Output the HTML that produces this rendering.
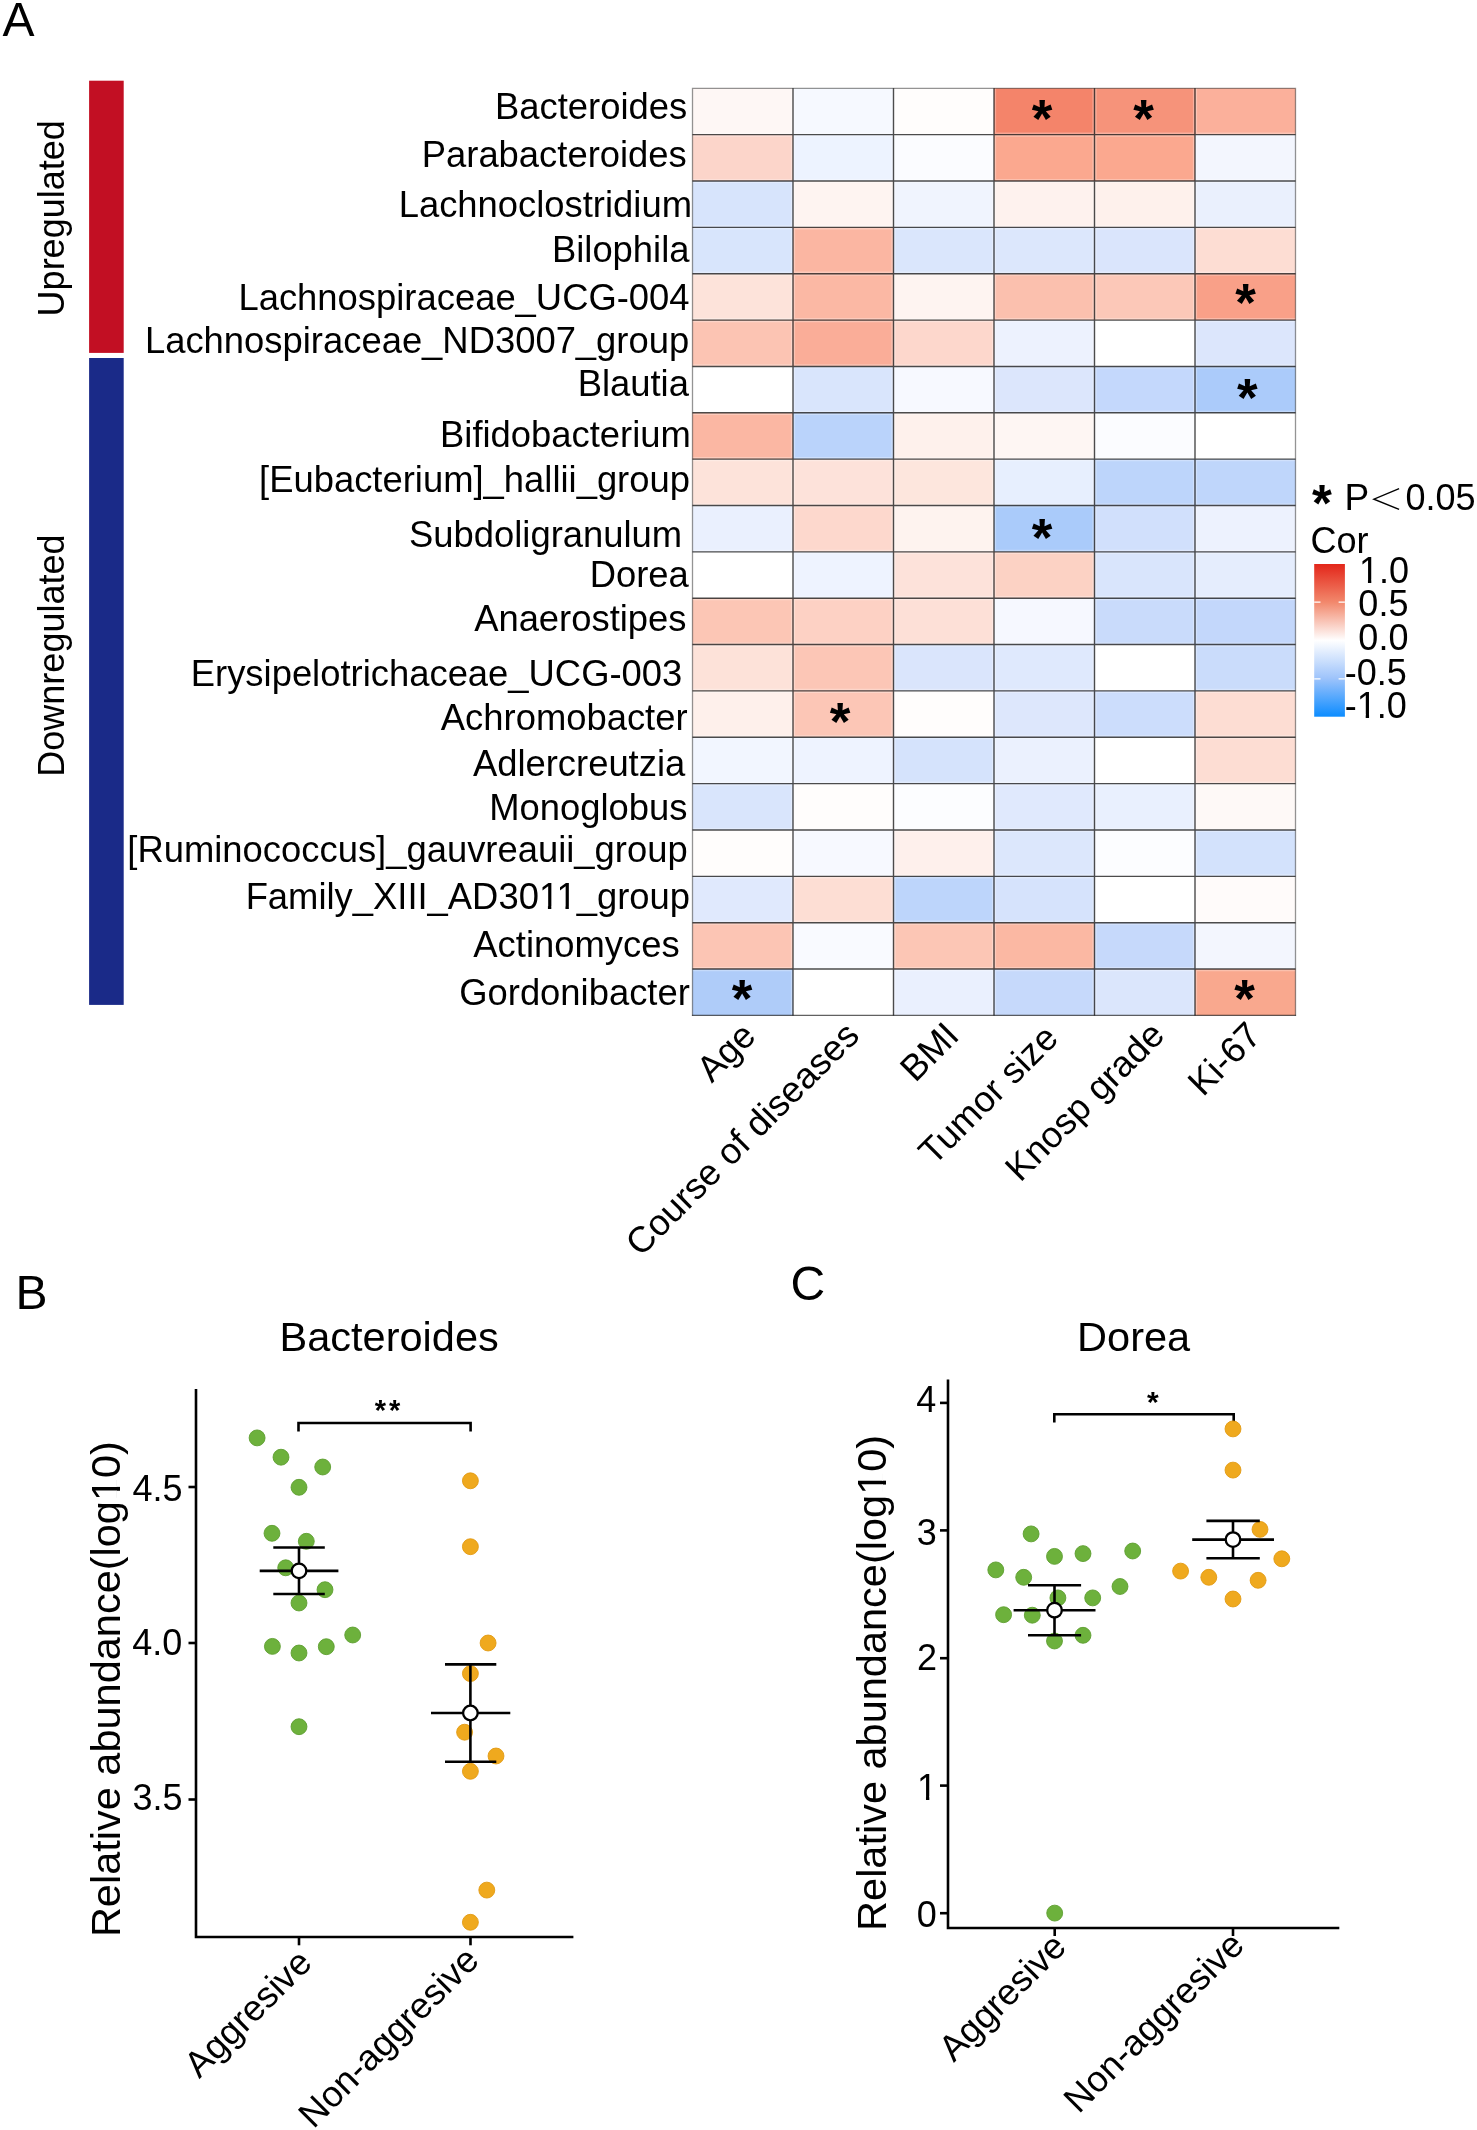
<!DOCTYPE html>
<html><head><meta charset="utf-8"><style>
html,body{margin:0;padding:0;background:#fff;}
svg{display:block;will-change:transform;}
text{font-family:"Liberation Sans",sans-serif;fill:#000;}
</style></head><body>
<svg width="1477" height="2130" viewBox="0 0 1477 2130">
<rect width="1477" height="2130" fill="#fff"/>
<text x="2.58" y="35.80" font-size="48.00">A</text>
<rect x="89.1" y="80.7" width="34.6" height="272.2" fill="#C20F23"/>
<rect x="89.1" y="358" width="34.6" height="646.9" fill="#1A2A88"/>
<text transform="translate(63.60,316.39) rotate(-90)" font-size="36.00">Upregulated</text>
<text transform="translate(64.30,776.67) rotate(-90)" font-size="36.00">Downregulated</text>
<text x="687.21" y="119.40" font-size="36.40" text-anchor="end">Bacteroides</text>
<text x="686.77" y="167.10" font-size="36.40" text-anchor="end">Parabacteroides</text>
<text x="691.96" y="216.50" font-size="36.40" text-anchor="end">Lachnoclostridium</text>
<text x="689.52" y="262.30" font-size="36.40" text-anchor="end">Bilophila</text>
<text x="689.57" y="310.00" font-size="36.40" text-anchor="end">Lachnospiraceae_UCG-004</text>
<text x="689.19" y="352.50" font-size="36.40" text-anchor="end">Lachnospiraceae_ND3007_group</text>
<text x="688.92" y="395.80" font-size="36.40" text-anchor="end">Blautia</text>
<text x="690.86" y="446.90" font-size="36.40" text-anchor="end">Bifidobacterium</text>
<text x="689.98" y="492.10" font-size="36.40" text-anchor="end">[Eubacterium]_hallii_group</text>
<text x="682.17" y="546.60" font-size="36.40" text-anchor="end">Subdoligranulum</text>
<text x="688.75" y="586.80" font-size="36.40" text-anchor="end">Dorea</text>
<text x="686.56" y="630.80" font-size="36.40" text-anchor="end">Anaerostipes</text>
<text x="682.31" y="686.00" font-size="36.40" text-anchor="end">Erysipelotrichaceae_UCG-003</text>
<text x="687.58" y="730.30" font-size="36.40" text-anchor="end">Achromobacter</text>
<text x="685.25" y="776.00" font-size="36.40" text-anchor="end">Adlercreutzia</text>
<text x="687.51" y="820.00" font-size="36.40" text-anchor="end">Monoglobus</text>
<text x="687.69" y="862.40" font-size="36.40" text-anchor="end">[Ruminococcus]_gauvreauii_group</text>
<text x="689.99" y="909.20" font-size="36.40" text-anchor="end">Family_XIII_AD3011_group</text>
<text x="679.61" y="956.90" font-size="36.40" text-anchor="end">Actinomyces</text>
<text x="689.83" y="1004.60" font-size="36.40" text-anchor="end">Gordonibacter</text>
<rect x="692.50" y="88.30" width="100.50" height="46.36" fill="#FEF7F5"/>
<rect x="793.00" y="88.30" width="100.50" height="46.36" fill="#F6F9FF"/>
<rect x="893.50" y="88.30" width="100.50" height="46.36" fill="#FFFDFC"/>
<rect x="994.00" y="88.30" width="100.50" height="46.36" fill="#F4846A"/>
<rect x="1094.50" y="88.30" width="100.50" height="46.36" fill="#F6937A"/>
<rect x="1195.00" y="88.30" width="100.50" height="46.36" fill="#FBB09B"/>
<rect x="692.50" y="134.66" width="100.50" height="46.36" fill="#FCD5CA"/>
<rect x="793.00" y="134.66" width="100.50" height="46.36" fill="#EDF3FF"/>
<rect x="893.50" y="134.66" width="100.50" height="46.36" fill="#FBFCFF"/>
<rect x="994.00" y="134.66" width="100.50" height="46.36" fill="#FBA88F"/>
<rect x="1094.50" y="134.66" width="100.50" height="46.36" fill="#FBA88F"/>
<rect x="1195.00" y="134.66" width="100.50" height="46.36" fill="#F3F6FE"/>
<rect x="692.50" y="181.01" width="100.50" height="46.36" fill="#D7E4FC"/>
<rect x="793.00" y="181.01" width="100.50" height="46.36" fill="#FEF4F1"/>
<rect x="893.50" y="181.01" width="100.50" height="46.36" fill="#F0F4FE"/>
<rect x="994.00" y="181.01" width="100.50" height="46.36" fill="#FEF2EE"/>
<rect x="1094.50" y="181.01" width="100.50" height="46.36" fill="#FEF1EC"/>
<rect x="1195.00" y="181.01" width="100.50" height="46.36" fill="#EAF0FD"/>
<rect x="692.50" y="227.37" width="100.50" height="46.36" fill="#D8E5FC"/>
<rect x="793.00" y="227.37" width="100.50" height="46.36" fill="#FBB6A2"/>
<rect x="893.50" y="227.37" width="100.50" height="46.36" fill="#DAE6FC"/>
<rect x="994.00" y="227.37" width="100.50" height="46.36" fill="#DCE7FC"/>
<rect x="1094.50" y="227.37" width="100.50" height="46.36" fill="#DAE5FC"/>
<rect x="1195.00" y="227.37" width="100.50" height="46.36" fill="#FDDDD3"/>
<rect x="692.50" y="273.72" width="100.50" height="46.36" fill="#FDE3DA"/>
<rect x="793.00" y="273.72" width="100.50" height="46.36" fill="#FBB8A4"/>
<rect x="893.50" y="273.72" width="100.50" height="46.36" fill="#FEF4F1"/>
<rect x="994.00" y="273.72" width="100.50" height="46.36" fill="#FBC0AE"/>
<rect x="1094.50" y="273.72" width="100.50" height="46.36" fill="#FCC8B8"/>
<rect x="1195.00" y="273.72" width="100.50" height="46.36" fill="#F9A088"/>
<rect x="692.50" y="320.08" width="100.50" height="46.36" fill="#FCC4B3"/>
<rect x="793.00" y="320.08" width="100.50" height="46.36" fill="#FAAD98"/>
<rect x="893.50" y="320.08" width="100.50" height="46.36" fill="#FDD7CC"/>
<rect x="994.00" y="320.08" width="100.50" height="46.36" fill="#EDF2FE"/>
<rect x="1094.50" y="320.08" width="100.50" height="46.36" fill="#FFFFFF"/>
<rect x="1195.00" y="320.08" width="100.50" height="46.36" fill="#DCE6FC"/>
<rect x="692.50" y="366.43" width="100.50" height="46.36" fill="#FFFFFF"/>
<rect x="793.00" y="366.43" width="100.50" height="46.36" fill="#D9E5FC"/>
<rect x="893.50" y="366.43" width="100.50" height="46.36" fill="#F7F9FF"/>
<rect x="994.00" y="366.43" width="100.50" height="46.36" fill="#DCE6FC"/>
<rect x="1094.50" y="366.43" width="100.50" height="46.36" fill="#C4D8FC"/>
<rect x="1195.00" y="366.43" width="100.50" height="46.36" fill="#ABCBFA"/>
<rect x="692.50" y="412.79" width="100.50" height="46.36" fill="#FBB7A3"/>
<rect x="793.00" y="412.79" width="100.50" height="46.36" fill="#BAD3FB"/>
<rect x="893.50" y="412.79" width="100.50" height="46.36" fill="#FEF1EC"/>
<rect x="994.00" y="412.79" width="100.50" height="46.36" fill="#FEF6F3"/>
<rect x="1094.50" y="412.79" width="100.50" height="46.36" fill="#FBFCFF"/>
<rect x="1195.00" y="412.79" width="100.50" height="46.36" fill="#FFFFFF"/>
<rect x="692.50" y="459.14" width="100.50" height="46.36" fill="#FDE3DA"/>
<rect x="793.00" y="459.14" width="100.50" height="46.36" fill="#FDE2DA"/>
<rect x="893.50" y="459.14" width="100.50" height="46.36" fill="#FDE6DD"/>
<rect x="994.00" y="459.14" width="100.50" height="46.36" fill="#E7EFFE"/>
<rect x="1094.50" y="459.14" width="100.50" height="46.36" fill="#BDD5FB"/>
<rect x="1195.00" y="459.14" width="100.50" height="46.36" fill="#BFD6FB"/>
<rect x="692.50" y="505.50" width="100.50" height="46.36" fill="#EAF0FE"/>
<rect x="793.00" y="505.50" width="100.50" height="46.36" fill="#FDD8CD"/>
<rect x="893.50" y="505.50" width="100.50" height="46.36" fill="#FEF3EF"/>
<rect x="994.00" y="505.50" width="100.50" height="46.36" fill="#AACBFA"/>
<rect x="1094.50" y="505.50" width="100.50" height="46.36" fill="#D1E0FC"/>
<rect x="1195.00" y="505.50" width="100.50" height="46.36" fill="#EDF2FE"/>
<rect x="692.50" y="551.85" width="100.50" height="46.36" fill="#FFFFFF"/>
<rect x="793.00" y="551.85" width="100.50" height="46.36" fill="#EEF3FF"/>
<rect x="893.50" y="551.85" width="100.50" height="46.36" fill="#FDE2DA"/>
<rect x="994.00" y="551.85" width="100.50" height="46.36" fill="#FCD2C4"/>
<rect x="1094.50" y="551.85" width="100.50" height="46.36" fill="#D9E5FC"/>
<rect x="1195.00" y="551.85" width="100.50" height="46.36" fill="#E5EDFD"/>
<rect x="692.50" y="598.21" width="100.50" height="46.36" fill="#FCC6B5"/>
<rect x="793.00" y="598.21" width="100.50" height="46.36" fill="#FDD1C4"/>
<rect x="893.50" y="598.21" width="100.50" height="46.36" fill="#FDE0D7"/>
<rect x="994.00" y="598.21" width="100.50" height="46.36" fill="#F6F8FF"/>
<rect x="1094.50" y="598.21" width="100.50" height="46.36" fill="#C9DBFB"/>
<rect x="1195.00" y="598.21" width="100.50" height="46.36" fill="#C3D7FB"/>
<rect x="692.50" y="644.56" width="100.50" height="46.36" fill="#FDE2D9"/>
<rect x="793.00" y="644.56" width="100.50" height="46.36" fill="#FCC6B6"/>
<rect x="893.50" y="644.56" width="100.50" height="46.36" fill="#DAE5FC"/>
<rect x="994.00" y="644.56" width="100.50" height="46.36" fill="#DFE9FD"/>
<rect x="1094.50" y="644.56" width="100.50" height="46.36" fill="#FFFFFF"/>
<rect x="1195.00" y="644.56" width="100.50" height="46.36" fill="#CADCFB"/>
<rect x="692.50" y="690.91" width="100.50" height="46.36" fill="#FEF0EB"/>
<rect x="793.00" y="690.91" width="100.50" height="46.36" fill="#FCC6B6"/>
<rect x="893.50" y="690.91" width="100.50" height="46.36" fill="#FFFDFC"/>
<rect x="994.00" y="690.91" width="100.50" height="46.36" fill="#DDE7FC"/>
<rect x="1094.50" y="690.91" width="100.50" height="46.36" fill="#CCDDFC"/>
<rect x="1195.00" y="690.91" width="100.50" height="46.36" fill="#FDDDD3"/>
<rect x="692.50" y="737.27" width="100.50" height="46.36" fill="#F2F6FF"/>
<rect x="793.00" y="737.27" width="100.50" height="46.36" fill="#EEF3FF"/>
<rect x="893.50" y="737.27" width="100.50" height="46.36" fill="#D5E3FC"/>
<rect x="994.00" y="737.27" width="100.50" height="46.36" fill="#EBF1FE"/>
<rect x="1094.50" y="737.27" width="100.50" height="46.36" fill="#FFFFFF"/>
<rect x="1195.00" y="737.27" width="100.50" height="46.36" fill="#FDDDD3"/>
<rect x="692.50" y="783.62" width="100.50" height="46.36" fill="#D9E5FC"/>
<rect x="793.00" y="783.62" width="100.50" height="46.36" fill="#FFFDFC"/>
<rect x="893.50" y="783.62" width="100.50" height="46.36" fill="#FCFDFF"/>
<rect x="994.00" y="783.62" width="100.50" height="46.36" fill="#E0E9FD"/>
<rect x="1094.50" y="783.62" width="100.50" height="46.36" fill="#E9F0FE"/>
<rect x="1195.00" y="783.62" width="100.50" height="46.36" fill="#FEF9F7"/>
<rect x="692.50" y="829.98" width="100.50" height="46.36" fill="#FFFDFC"/>
<rect x="793.00" y="829.98" width="100.50" height="46.36" fill="#F7F9FF"/>
<rect x="893.50" y="829.98" width="100.50" height="46.36" fill="#FEF0EC"/>
<rect x="994.00" y="829.98" width="100.50" height="46.36" fill="#DCE7FC"/>
<rect x="1094.50" y="829.98" width="100.50" height="46.36" fill="#FCFDFF"/>
<rect x="1195.00" y="829.98" width="100.50" height="46.36" fill="#D3E2FC"/>
<rect x="692.50" y="876.34" width="100.50" height="46.36" fill="#E0E9FD"/>
<rect x="793.00" y="876.34" width="100.50" height="46.36" fill="#FDDED4"/>
<rect x="893.50" y="876.34" width="100.50" height="46.36" fill="#BDD5FB"/>
<rect x="994.00" y="876.34" width="100.50" height="46.36" fill="#D6E3FC"/>
<rect x="1094.50" y="876.34" width="100.50" height="46.36" fill="#FFFFFF"/>
<rect x="1195.00" y="876.34" width="100.50" height="46.36" fill="#FFFBFA"/>
<rect x="692.50" y="922.69" width="100.50" height="46.36" fill="#FCC5B4"/>
<rect x="793.00" y="922.69" width="100.50" height="46.36" fill="#F9FAFF"/>
<rect x="893.50" y="922.69" width="100.50" height="46.36" fill="#FCC6B5"/>
<rect x="994.00" y="922.69" width="100.50" height="46.36" fill="#FBB8A3"/>
<rect x="1094.50" y="922.69" width="100.50" height="46.36" fill="#C6D9FB"/>
<rect x="1195.00" y="922.69" width="100.50" height="46.36" fill="#F3F6FE"/>
<rect x="692.50" y="969.05" width="100.50" height="46.36" fill="#AFCCF9"/>
<rect x="793.00" y="969.05" width="100.50" height="46.36" fill="#FFFFFF"/>
<rect x="893.50" y="969.05" width="100.50" height="46.36" fill="#EAF0FE"/>
<rect x="994.00" y="969.05" width="100.50" height="46.36" fill="#C6D9FB"/>
<rect x="1094.50" y="969.05" width="100.50" height="46.36" fill="#DBE6FC"/>
<rect x="1195.00" y="969.05" width="100.50" height="46.36" fill="#F9A88E"/>
<path d="M793.00 88.30V1015.40 M893.50 88.30V1015.40 M994.00 88.30V1015.40 M1094.50 88.30V1015.40 M1195.00 88.30V1015.40 M692.50 134.66H1295.50 M692.50 181.01H1295.50 M692.50 227.37H1295.50 M692.50 273.72H1295.50 M692.50 320.08H1295.50 M692.50 366.43H1295.50 M692.50 412.79H1295.50 M692.50 459.14H1295.50 M692.50 505.50H1295.50 M692.50 551.85H1295.50 M692.50 598.21H1295.50 M692.50 644.56H1295.50 M692.50 690.91H1295.50 M692.50 737.27H1295.50 M692.50 783.62H1295.50 M692.50 829.98H1295.50 M692.50 876.34H1295.50 M692.50 922.69H1295.50 M692.50 969.05H1295.50" stroke="#fff" stroke-opacity="0.28" stroke-width="4.2" fill="none"/>
<path d="M793.00 88.30V1015.40 M893.50 88.30V1015.40 M994.00 88.30V1015.40 M1094.50 88.30V1015.40 M1195.00 88.30V1015.40 M692.50 134.66H1295.50 M692.50 181.01H1295.50 M692.50 227.37H1295.50 M692.50 273.72H1295.50 M692.50 320.08H1295.50 M692.50 366.43H1295.50 M692.50 412.79H1295.50 M692.50 459.14H1295.50 M692.50 505.50H1295.50 M692.50 551.85H1295.50 M692.50 598.21H1295.50 M692.50 644.56H1295.50 M692.50 690.91H1295.50 M692.50 737.27H1295.50 M692.50 783.62H1295.50 M692.50 829.98H1295.50 M692.50 876.34H1295.50 M692.50 922.69H1295.50 M692.50 969.05H1295.50" stroke="#000" stroke-opacity="0.70" stroke-width="1.4" fill="none"/>
<path d="M692.50 1015.40V88.30H1295.50V1015.40" stroke="#000" stroke-opacity="0.42" stroke-width="1.3" fill="none"/>
<path d="M691.90 1015.40H1296.10" stroke="#000" stroke-opacity="0.62" stroke-width="1.3" fill="none"/>
<text x="1031.66" y="137.07" font-size="53.00" font-weight="bold">*</text>
<text x="1133.16" y="137.07" font-size="53.00" font-weight="bold">*</text>
<text x="1235.16" y="321.37" font-size="53.00" font-weight="bold">*</text>
<text x="1237.07" y="416.47" font-size="53.00" font-weight="bold">*</text>
<text x="1031.76" y="556.17" font-size="53.00" font-weight="bold">*</text>
<text x="829.66" y="740.07" font-size="53.00" font-weight="bold">*</text>
<text x="731.87" y="1016.57" font-size="53.00" font-weight="bold">*</text>
<text x="1234.16" y="1016.57" font-size="53.00" font-weight="bold">*</text>
<text transform="translate(757.50,1038.00) rotate(-45)" font-size="36.40" text-anchor="end">Age</text>
<text transform="translate(861.00,1037.50) rotate(-45)" font-size="36.40" text-anchor="end">Course of diseases</text>
<text transform="translate(961.00,1037.50) rotate(-45)" font-size="36.40" text-anchor="end">BMI</text>
<text transform="translate(1060.00,1040.30) rotate(-45)" font-size="36.40" text-anchor="end">Tumor size</text>
<text transform="translate(1166.30,1037.00) rotate(-45)" font-size="36.40" text-anchor="end">Knosp grade</text>
<text transform="translate(1263.00,1037.50) rotate(-45)" font-size="36.40" text-anchor="end">Ki-67</text>
<text x="1312.07" y="520.56" font-size="51.00" font-weight="bold">*</text>
<text x="1344.45" y="509.90" font-size="37.00">P</text>
<path d="M1399.1 488.7L1373.9 499.2L1399.1 509.4" stroke="#000" stroke-width="1.4" fill="none"/>
<text x="1405.46" y="510.20" font-size="36.00">0.05</text>
<text x="1310.40" y="553.20" font-size="36.00">Cor</text>
<defs><linearGradient id="cb" x1="0" y1="0" x2="0" y2="1"><stop offset="0" stop-color="#E3261A"/><stop offset="0.25" stop-color="#F2886C"/><stop offset="0.5" stop-color="#FFFFFF"/><stop offset="0.75" stop-color="#9DC3FB"/><stop offset="1" stop-color="#0C8CFF"/></linearGradient></defs>
<rect x="1314.2" y="564" width="30.7" height="152.7" fill="url(#cb)"/>
<path d="M1314.2 602.1H1320.5M1338.6 602.1H1344.9" stroke="#fff" stroke-width="1.3"/>
<path d="M1314.2 678.8H1320.5M1338.6 678.8H1344.9" stroke="#fff" stroke-width="1.3"/>
<text x="1359.00" y="582.80" font-size="36.00">1.0</text>
<text x="1358.36" y="616.30" font-size="36.00">0.5</text>
<text x="1358.36" y="650.40" font-size="36.00">0.0</text>
<text x="1344.78" y="684.60" font-size="36.00">-0.5</text>
<text x="1344.78" y="717.60" font-size="36.00">-1.0</text>
<text x="15.54" y="1309.30" font-size="48.00">B</text>
<text x="279.58" y="1350.90" font-size="41.50">Bacteroides</text>
<path d="M196 1389V1937H573.4" stroke="#000" stroke-width="2.60" fill="none"/>
<path d="M188.50 1487.00L196.00 1487.00" stroke="#000" stroke-width="2.60" fill="none"/>
<path d="M188.50 1643.00L196.00 1643.00" stroke="#000" stroke-width="2.60" fill="none"/>
<path d="M188.50 1799.50L196.00 1799.50" stroke="#000" stroke-width="2.60" fill="none"/>
<text x="182.45" y="1500.70" font-size="36.00" text-anchor="end">4.5</text>
<text x="182.36" y="1654.60" font-size="36.00" text-anchor="end">4.0</text>
<text x="182.45" y="1809.80" font-size="36.00" text-anchor="end">3.5</text>
<text transform="translate(120.30,1937.12) rotate(-90)" font-size="41.50">Relative abundance(log10)</text>
<path d="M299.00 1937.00L299.00 1945.30" stroke="#000" stroke-width="2.60" fill="none"/>
<path d="M470.50 1937.00L470.50 1945.30" stroke="#000" stroke-width="2.60" fill="none"/>
<path d="M298.5 1431.5V1423H470.6V1431.5" stroke="#000" stroke-width="2.60" fill="none"/>
<text x="374.75" y="1420.19" font-size="29.00" font-weight="bold">*</text>
<text x="388.95" y="1420.19" font-size="29.00" font-weight="bold">*</text>
<circle cx="257.1" cy="1437.9" r="7.95" fill="#6DB13C" stroke="#5E9E30" stroke-width="0.9"/>
<circle cx="281.0" cy="1457.2" r="7.95" fill="#6DB13C" stroke="#5E9E30" stroke-width="0.9"/>
<circle cx="322.7" cy="1467.0" r="7.95" fill="#6DB13C" stroke="#5E9E30" stroke-width="0.9"/>
<circle cx="299.0" cy="1487.3" r="7.95" fill="#6DB13C" stroke="#5E9E30" stroke-width="0.9"/>
<circle cx="272.0" cy="1533.3" r="7.95" fill="#6DB13C" stroke="#5E9E30" stroke-width="0.9"/>
<circle cx="306.3" cy="1541.3" r="7.95" fill="#6DB13C" stroke="#5E9E30" stroke-width="0.9"/>
<circle cx="285.7" cy="1567.8" r="7.95" fill="#6DB13C" stroke="#5E9E30" stroke-width="0.9"/>
<circle cx="325.0" cy="1589.7" r="7.95" fill="#6DB13C" stroke="#5E9E30" stroke-width="0.9"/>
<circle cx="299.0" cy="1603.0" r="7.95" fill="#6DB13C" stroke="#5E9E30" stroke-width="0.9"/>
<circle cx="272.4" cy="1646.4" r="7.95" fill="#6DB13C" stroke="#5E9E30" stroke-width="0.9"/>
<circle cx="299.0" cy="1653.0" r="7.95" fill="#6DB13C" stroke="#5E9E30" stroke-width="0.9"/>
<circle cx="326.3" cy="1646.7" r="7.95" fill="#6DB13C" stroke="#5E9E30" stroke-width="0.9"/>
<circle cx="352.7" cy="1635.0" r="7.95" fill="#6DB13C" stroke="#5E9E30" stroke-width="0.9"/>
<circle cx="299.0" cy="1726.7" r="7.95" fill="#6DB13C" stroke="#5E9E30" stroke-width="0.9"/>
<circle cx="470.4" cy="1480.8" r="7.95" fill="#EFA91E" stroke="#E29A12" stroke-width="0.9"/>
<circle cx="470.4" cy="1546.7" r="7.95" fill="#EFA91E" stroke="#E29A12" stroke-width="0.9"/>
<circle cx="488.1" cy="1643.0" r="7.95" fill="#EFA91E" stroke="#E29A12" stroke-width="0.9"/>
<circle cx="470.4" cy="1673.6" r="7.95" fill="#EFA91E" stroke="#E29A12" stroke-width="0.9"/>
<circle cx="464.6" cy="1732.2" r="7.95" fill="#EFA91E" stroke="#E29A12" stroke-width="0.9"/>
<circle cx="496.0" cy="1756.0" r="7.95" fill="#EFA91E" stroke="#E29A12" stroke-width="0.9"/>
<circle cx="470.4" cy="1771.3" r="7.95" fill="#EFA91E" stroke="#E29A12" stroke-width="0.9"/>
<circle cx="486.8" cy="1890.1" r="7.95" fill="#EFA91E" stroke="#E29A12" stroke-width="0.9"/>
<circle cx="470.4" cy="1922.3" r="7.95" fill="#EFA91E" stroke="#E29A12" stroke-width="0.9"/>
<path d="M259.70 1570.90L338.40 1570.90" stroke="#000" stroke-width="2.60" fill="none"/>
<path d="M273.30 1547.50L324.80 1547.50" stroke="#000" stroke-width="2.60" fill="none"/>
<path d="M273.30 1594.00L324.80 1594.00" stroke="#000" stroke-width="2.60" fill="none"/>
<path d="M299.00 1547.50L299.00 1594.00" stroke="#000" stroke-width="2.60" fill="none"/>
<circle cx="299.0" cy="1570.9" r="7.3" fill="#fff" stroke="#000" stroke-width="2.3"/>
<path d="M431.00 1713.00L510.30 1713.00" stroke="#000" stroke-width="2.60" fill="none"/>
<path d="M445.00 1664.40L496.30 1664.40" stroke="#000" stroke-width="2.60" fill="none"/>
<path d="M445.00 1761.80L496.30 1761.80" stroke="#000" stroke-width="2.60" fill="none"/>
<path d="M470.40 1664.40L470.40 1761.80" stroke="#000" stroke-width="2.60" fill="none"/>
<circle cx="470.4" cy="1713.0" r="7.3" fill="#fff" stroke="#000" stroke-width="2.3"/>
<text transform="translate(313.80,1964.70) rotate(-45)" font-size="36.40" text-anchor="end">Aggresive</text>
<text transform="translate(480.90,1962.10) rotate(-45)" font-size="36.40" text-anchor="end">Non-aggresive</text>
<text x="790.60" y="1300.10" font-size="48.00">C</text>
<text x="1077.08" y="1351.00" font-size="41.50">Dorea</text>
<path d="M948 1379.6V1928H1339.3" stroke="#000" stroke-width="2.60" fill="none"/>
<path d="M940.00 1402.90L948.00 1402.90" stroke="#000" stroke-width="2.60" fill="none"/>
<text x="936.33" y="1411.60" font-size="36.00" text-anchor="end">4</text>
<path d="M940.00 1530.40L948.00 1530.40" stroke="#000" stroke-width="2.60" fill="none"/>
<text x="936.87" y="1544.50" font-size="36.00" text-anchor="end">3</text>
<path d="M940.00 1658.20L948.00 1658.20" stroke="#000" stroke-width="2.60" fill="none"/>
<text x="937.14" y="1670.20" font-size="36.00" text-anchor="end">2</text>
<path d="M940.00 1785.60L948.00 1785.60" stroke="#000" stroke-width="2.60" fill="none"/>
<text x="937.05" y="1799.50" font-size="36.00" text-anchor="end">1</text>
<path d="M940.00 1913.20L948.00 1913.20" stroke="#000" stroke-width="2.60" fill="none"/>
<text x="936.69" y="1927.30" font-size="36.00" text-anchor="end">0</text>
<text transform="translate(885.90,1930.92) rotate(-90)" font-size="41.50">Relative abundance(log10)</text>
<path d="M1054.70 1928.00L1054.70 1936.00" stroke="#000" stroke-width="2.60" fill="none"/>
<path d="M1233.00 1928.00L1233.00 1936.00" stroke="#000" stroke-width="2.60" fill="none"/>
<path d="M1054.3 1422.5V1414.2H1233.7V1422.5" stroke="#000" stroke-width="2.60" fill="none"/>
<text x="1147.05" y="1412.34" font-size="30.00" font-weight="bold">*</text>
<circle cx="1031.1" cy="1533.9" r="7.95" fill="#6DB13C" stroke="#5E9E30" stroke-width="0.9"/>
<circle cx="1054.5" cy="1556.4" r="7.95" fill="#6DB13C" stroke="#5E9E30" stroke-width="0.9"/>
<circle cx="1083.0" cy="1553.6" r="7.95" fill="#6DB13C" stroke="#5E9E30" stroke-width="0.9"/>
<circle cx="1132.7" cy="1551.0" r="7.95" fill="#6DB13C" stroke="#5E9E30" stroke-width="0.9"/>
<circle cx="995.8" cy="1569.9" r="7.95" fill="#6DB13C" stroke="#5E9E30" stroke-width="0.9"/>
<circle cx="1023.7" cy="1577.3" r="7.95" fill="#6DB13C" stroke="#5E9E30" stroke-width="0.9"/>
<circle cx="1120.0" cy="1586.5" r="7.95" fill="#6DB13C" stroke="#5E9E30" stroke-width="0.9"/>
<circle cx="1057.9" cy="1597.9" r="7.95" fill="#6DB13C" stroke="#5E9E30" stroke-width="0.9"/>
<circle cx="1092.7" cy="1597.9" r="7.95" fill="#6DB13C" stroke="#5E9E30" stroke-width="0.9"/>
<circle cx="1003.6" cy="1614.7" r="7.95" fill="#6DB13C" stroke="#5E9E30" stroke-width="0.9"/>
<circle cx="1032.3" cy="1615.2" r="7.95" fill="#6DB13C" stroke="#5E9E30" stroke-width="0.9"/>
<circle cx="1054.5" cy="1641.0" r="7.95" fill="#6DB13C" stroke="#5E9E30" stroke-width="0.9"/>
<circle cx="1083.0" cy="1635.3" r="7.95" fill="#6DB13C" stroke="#5E9E30" stroke-width="0.9"/>
<circle cx="1054.7" cy="1913.1" r="7.95" fill="#6DB13C" stroke="#5E9E30" stroke-width="0.9"/>
<circle cx="1233.0" cy="1428.9" r="7.95" fill="#EFA91E" stroke="#E29A12" stroke-width="0.9"/>
<circle cx="1233.0" cy="1470.1" r="7.95" fill="#EFA91E" stroke="#E29A12" stroke-width="0.9"/>
<circle cx="1260.0" cy="1529.4" r="7.95" fill="#EFA91E" stroke="#E29A12" stroke-width="0.9"/>
<circle cx="1281.8" cy="1558.8" r="7.95" fill="#EFA91E" stroke="#E29A12" stroke-width="0.9"/>
<circle cx="1180.6" cy="1571.1" r="7.95" fill="#EFA91E" stroke="#E29A12" stroke-width="0.9"/>
<circle cx="1208.8" cy="1577.3" r="7.95" fill="#EFA91E" stroke="#E29A12" stroke-width="0.9"/>
<circle cx="1258.1" cy="1580.3" r="7.95" fill="#EFA91E" stroke="#E29A12" stroke-width="0.9"/>
<circle cx="1233.0" cy="1599.0" r="7.95" fill="#EFA91E" stroke="#E29A12" stroke-width="0.9"/>
<path d="M1013.60 1610.20L1095.50 1610.20" stroke="#000" stroke-width="2.60" fill="none"/>
<path d="M1028.00 1585.30L1081.10 1585.30" stroke="#000" stroke-width="2.60" fill="none"/>
<path d="M1028.00 1635.30L1081.10 1635.30" stroke="#000" stroke-width="2.60" fill="none"/>
<path d="M1054.50 1585.30L1054.50 1635.30" stroke="#000" stroke-width="2.60" fill="none"/>
<circle cx="1054.5" cy="1610.2" r="7.3" fill="#fff" stroke="#000" stroke-width="2.3"/>
<path d="M1192.20 1539.60L1274.00 1539.60" stroke="#000" stroke-width="2.60" fill="none"/>
<path d="M1206.40 1520.90L1259.80 1520.90" stroke="#000" stroke-width="2.60" fill="none"/>
<path d="M1206.40 1558.30L1259.80 1558.30" stroke="#000" stroke-width="2.60" fill="none"/>
<path d="M1233.00 1520.90L1233.00 1558.30" stroke="#000" stroke-width="2.60" fill="none"/>
<circle cx="1233.0" cy="1539.6" r="7.3" fill="#fff" stroke="#000" stroke-width="2.3"/>
<text transform="translate(1068.10,1948.60) rotate(-45)" font-size="36.40" text-anchor="end">Aggresive</text>
<text transform="translate(1246.10,1947.10) rotate(-45)" font-size="36.40" text-anchor="end">Non-aggresive</text>
<!--m1--><rect x="540.52" y="906.00" width="7.41" height="4.80" fill="#fff"/><rect x="551.31" y="906.00" width="7.04" height="4.80" fill="#fff"/><rect x="558.05" y="906.00" width="7.41" height="4.80" fill="#fff"/><rect x="568.84" y="906.00" width="7.04" height="4.80" fill="#fff"/><rect x="1360.62" y="579.63" width="7.33" height="4.77" fill="#fff"/><rect x="1371.29" y="579.63" width="6.97" height="4.77" fill="#fff"/><rect x="1358.38" y="714.43" width="7.33" height="4.77" fill="#fff"/><rect x="1369.06" y="714.43" width="6.97" height="4.77" fill="#fff"/><g transform="translate(120.30,1937.12) rotate(-90)"><rect x="437.91" y="-3.65" width="8.45" height="5.25" fill="#fff"/><rect x="450.22" y="-3.65" width="8.03" height="5.25" fill="#fff"/></g><rect x="918.64" y="1796.33" width="7.33" height="4.77" fill="#fff"/><rect x="929.31" y="1796.33" width="6.97" height="4.77" fill="#fff"/><g transform="translate(885.90,1930.92) rotate(-90)"><rect x="437.91" y="-3.65" width="8.45" height="5.25" fill="#fff"/><rect x="450.22" y="-3.65" width="8.03" height="5.25" fill="#fff"/></g>
</svg></body></html>
